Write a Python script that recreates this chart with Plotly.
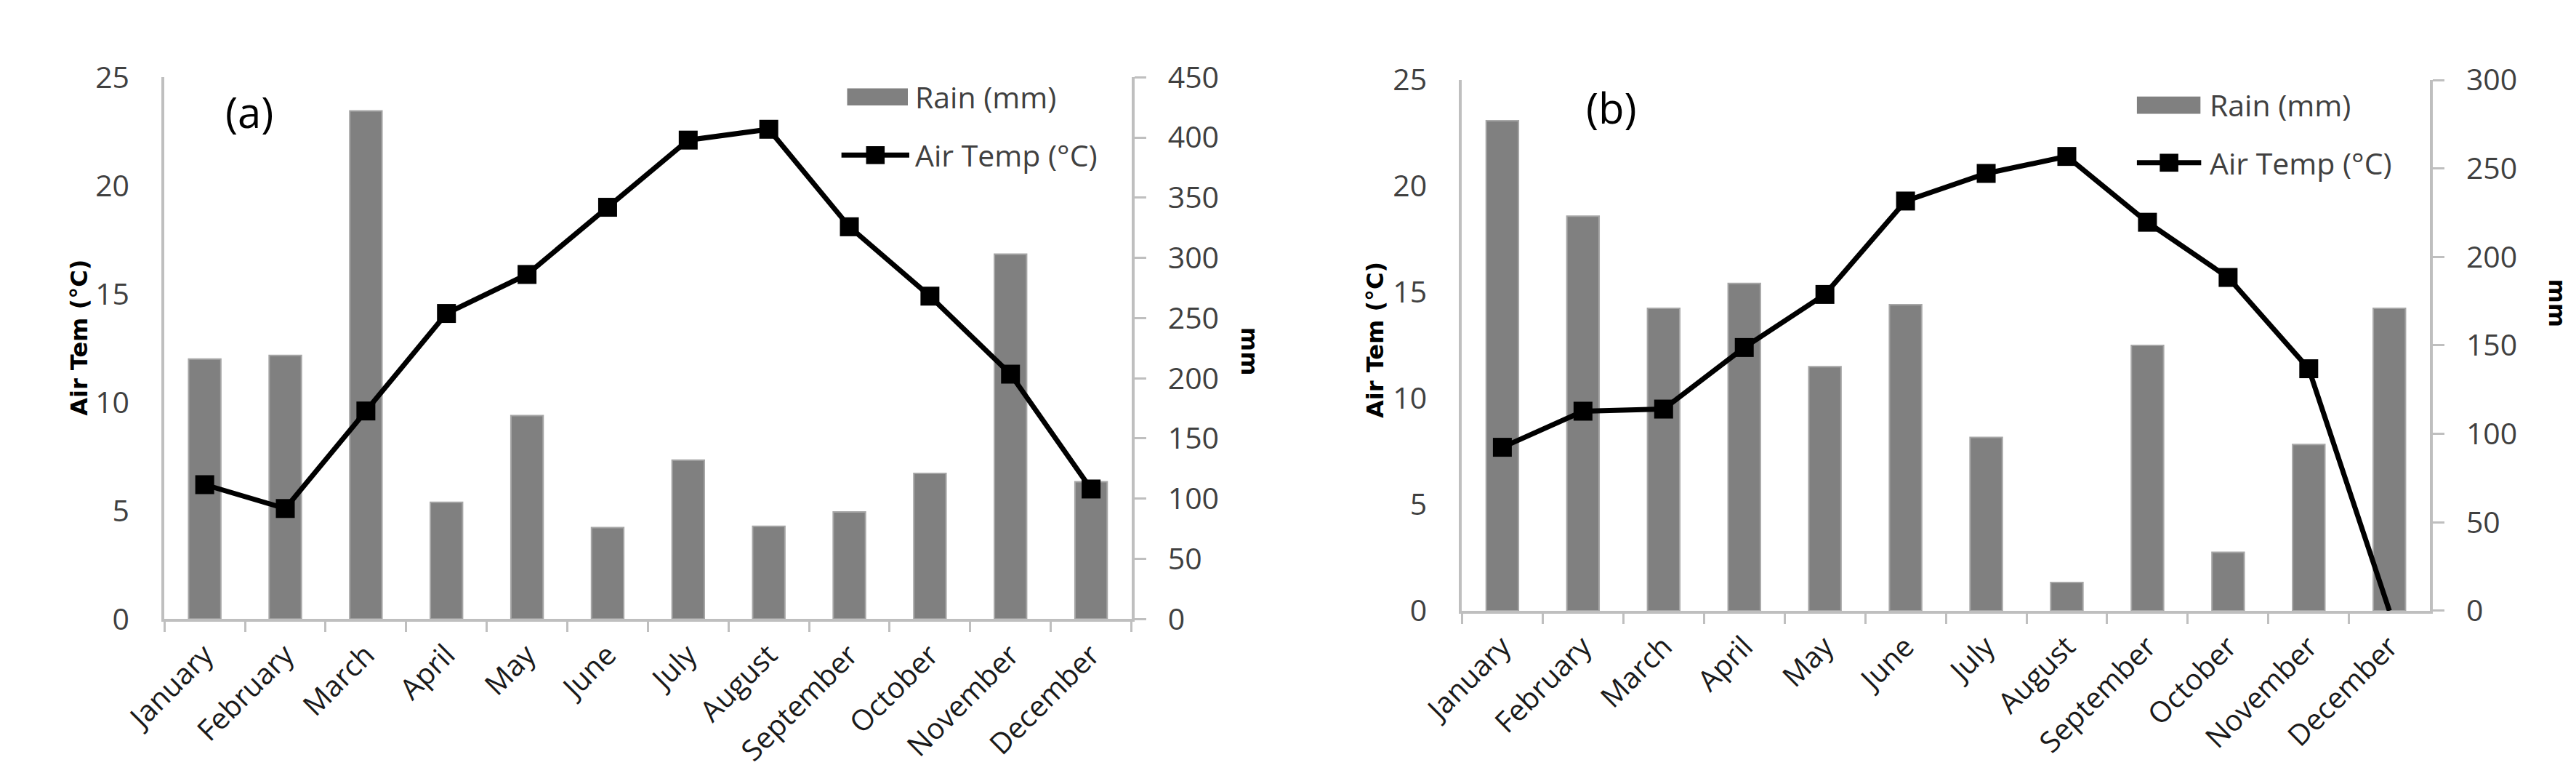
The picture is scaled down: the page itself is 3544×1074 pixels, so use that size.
import plotly.graph_objects as go

# monthly data
months = ["January", "February", "March", "April", "May", "June",
          "July", "August", "September", "October", "November", "December"]

rain_a = [216, 219, 422, 97, 169, 76, 132, 77, 89, 121, 303, 114]
temp_a = [6.2, 5.1, 9.6, 14.1, 15.9, 19.0, 22.1, 22.6, 18.1, 14.9, 11.3, 6.0]

rain_b = [277, 223, 171, 185, 138, 173, 98, 16, 150, 33, 94, 171]
temp_b = [7.7, 9.4, 9.5, 12.4, 14.9, 19.3, 20.6, 21.4, 18.3, 15.7, 11.4, 0]

W, H = 3544, 1074
BAR = "#808080"
AXIS = "#bfbfbf"
TICK_FONT = dict(family="Open Sans", size=41, color="#404040")
MONTH_FONT = dict(family="Open Sans", size=40, color="#1a1a1a")


def px(x):
    return x / W


def py(y):
    return 1 - y / H


fig = go.Figure()

panels = [
    # x axis, rain axis, temp axis, rain, temp
    ("x", "y", "y2", rain_a, temp_a),
    ("x2", "y3", "y4", rain_b, temp_b),
]
for xa, ya_rain, ya_temp, rain, temp in panels:
    fig.add_trace(go.Bar(
        x=months, y=rain, xaxis=xa, yaxis=ya_rain,
        marker=dict(color=BAR, line=dict(color="#a6a6a6", width=2)),
        width=0.4, name="Rain (mm)", showlegend=False,
    ))
    # no marker where the temperature drops to zero (missing month)
    sizes = [0 if v == 0 else 26 for v in temp]
    fig.add_trace(go.Scatter(
        x=months, y=temp, xaxis=xa, yaxis=ya_temp,
        mode="lines+markers",
        line=dict(color="black", width=7),
        marker=dict(symbol="square", size=sizes, color="black",
                    line=dict(width=0), opacity=1),
        name="Air Temp (°C)", showlegend=False, cliponaxis=False,
    ))


def xaxis_cfg(x0, x1, anchor):
    return dict(
        domain=[px(x0), px(x1)], anchor=anchor, type="category",
        range=[-0.5, 11.5], tickson="boundaries",
        ticks="outside", ticklen=14, tickwidth=3, tickcolor=AXIS,
        showline=True, linecolor=AXIS, linewidth=4,
        tickangle=-45, tickfont=MONTH_FONT, showgrid=False,
        ticklabelstandoff=6,
    )


def rain_cfg(y0, y1, anchor, top, step):
    return dict(
        domain=[py(y1), py(y0)], anchor=anchor, side="right",
        range=[0, top], dtick=step, showgrid=False, zeroline=False,
        showline=True, linecolor=AXIS, linewidth=4,
        ticks="outside", ticklen=16, tickwidth=3, tickcolor=AXIS,
        tickfont=TICK_FONT, ticklabelstandoff=22,
    )


def temp_cfg(overlay, anchor):
    return dict(
        overlaying=overlay, anchor=anchor, side="left",
        range=[0, 25], dtick=5, showgrid=False, zeroline=False,
        showline=True, linecolor=AXIS, linewidth=4, ticks="",
        tickfont=TICK_FONT, ticklabelstandoff=36,
    )


fig.update_layout(
    width=W, height=H,
    margin=dict(l=0, r=0, t=0, b=0),
    paper_bgcolor="white", plot_bgcolor="white",
    showlegend=False, bargap=0.6,
    xaxis=xaxis_cfg(159, 1513, "y"),
    yaxis=rain_cfg(72, 858, "x", 450, 50),
    yaxis2=temp_cfg("y", "x"),
    xaxis2=xaxis_cfg(1976, 3331, "y3"),
    yaxis3=rain_cfg(76, 846, "x2", 300, 50),
    yaxis4=temp_cfg("y3", "x2"),
)

# panel letters and axis titles
title_font = dict(family="DejaVu Sans", size=32, color="black", weight="bold")
notes = [
    ("(a)", 278, 122, 0, dict(family="Open Sans", size=58, color="black")),
    ("(b)", 2185, 115, 0, dict(family="Open Sans", size=58, color="black")),
    ("Air Tem (°C)", 39, 450, -90, title_font),
    ("Air Tem (°C)", 1855, 453, -90, title_font),
    ("mm", 1678, 470, 90, title_font),
    ("mm", 3509, 400, 90, title_font),
]
for text, x, y, ang, font in notes:
    fig.add_annotation(text=text, x=px(x), y=py(y), xref="paper", yref="paper",
                       showarrow=False, textangle=ang, font=font,
                       xanchor="center", yanchor="middle")

# hand-drawn legends (swatch sized like the original)
LEG_FONT = dict(family="Open Sans", size=41, color="#404040")
legends = [
    # swatch box, row1 y, line x-range, row2 y, text x
    ((1115, 88, 1200, 113), 100, (1107, 1202), 185, 1208),
    ((2921, 100, 3010, 125), 112, (2921, 3011), 196, 3021),
]
for (sx0, sy0, sx1, sy1), r1, (lx0, lx1), r2, tx in legends:
    fig.add_shape(type="rect", xref="paper", yref="paper",
                  x0=px(sx0), x1=px(sx1), y0=py(sy1), y1=py(sy0),
                  fillcolor=BAR, line=dict(width=0))
    fig.add_shape(type="line", xref="paper", yref="paper",
                  x0=px(lx0), x1=px(lx1), y0=py(r2), y1=py(r2),
                  line=dict(color="black", width=7))
    mx = (lx0 + lx1) / 2
    fig.add_shape(type="rect", xref="paper", yref="paper",
                  x0=px(mx - 13), x1=px(mx + 13), y0=py(r2 + 13), y1=py(r2 - 13),
                  fillcolor="black", line=dict(width=0))
    fig.add_annotation(text="Rain (mm)", x=px(tx), y=py(r1), xref="paper", yref="paper",
                       showarrow=False, xanchor="left", yanchor="middle", font=LEG_FONT)
    fig.add_annotation(text="Air Temp (°C)", x=px(tx), y=py(r2), xref="paper", yref="paper",
                       showarrow=False, xanchor="left", yanchor="middle", font=LEG_FONT)

fig.write_html("out.html")
